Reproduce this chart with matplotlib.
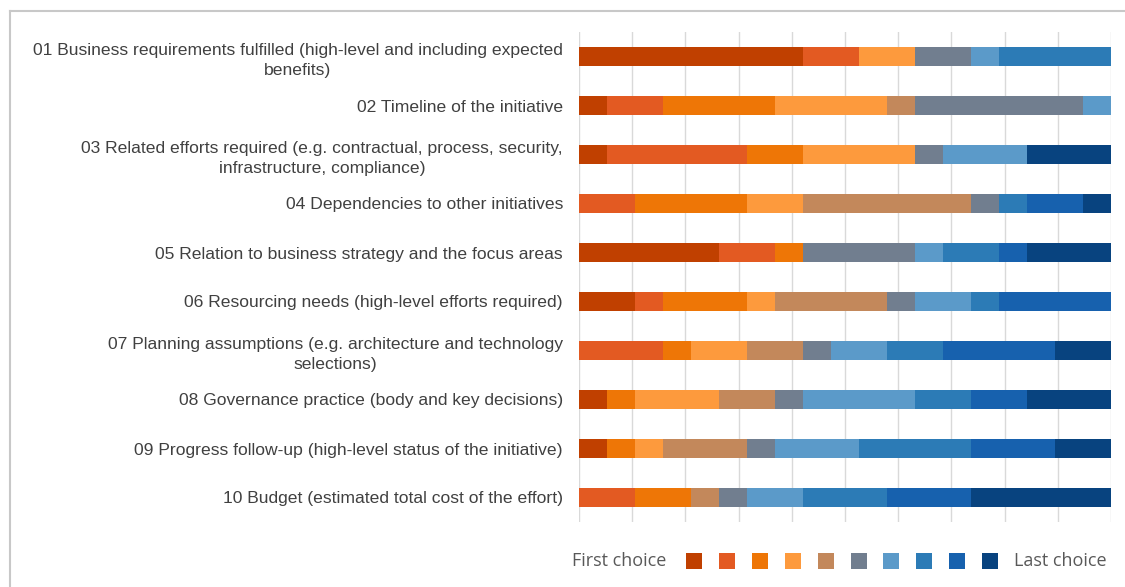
import matplotlib.pyplot as plt
from matplotlib.patches import Rectangle

# ranking survey: how many of the 19 respondents put each item at rank 1..10
items = [
    "01 Business requirements fulfilled (high-level and including expected\nbenefits)",
    "02 Timeline of the initiative",
    "03 Related efforts required (e.g. contractual, process, security,\ninfrastructure, compliance)",
    "04 Dependencies to other initiatives",
    "05 Relation to business strategy and the focus areas",
    "06 Resourcing needs (high-level efforts required)",
    "07 Planning assumptions (e.g. architecture and technology\nselections)",
    "08 Governance practice (body and key decisions)",
    "09 Progress follow-up (high-level status of the initiative)",
    "10 Budget (estimated total cost of the effort)",
]
counts = [
    [8, 2, 0, 2, 0, 2, 1, 4, 0, 0],
    [1, 2, 4, 4, 1, 6, 1, 0, 0, 0],
    [1, 5, 2, 4, 0, 1, 3, 0, 0, 3],
    [0, 2, 4, 2, 6, 1, 0, 1, 2, 1],
    [5, 2, 1, 0, 0, 4, 1, 2, 1, 3],
    [2, 1, 3, 1, 4, 1, 2, 1, 4, 0],
    [0, 3, 1, 2, 2, 1, 2, 2, 4, 2],
    [1, 0, 1, 3, 2, 1, 4, 2, 2, 3],
    [1, 0, 1, 1, 3, 1, 3, 4, 3, 2],
    [0, 2, 2, 0, 1, 1, 2, 3, 3, 5],
]
respondents = 19
rank_colors = ["#C04000", "#E35A22", "#EE7606", "#FD9A3D", "#C3885B",
               "#717E8F", "#5B9AC9", "#2C7BB6", "#1761AE", "#08437F"]

plt.rcParams['font.family'] = ['Liberation Sans', 'DejaVu Sans']

fig = plt.figure(figsize=(11.25, 5.87), dpi=100)
ax = fig.add_axes([579 / 1125, 1 - 522 / 587, 532 / 1125, 490 / 587])

ypos = list(range(len(items)))
left = [0.0] * len(items)
for r in range(10):
    widths = [row[r] / respondents * 100 for row in counts]
    ax.barh(ypos, widths, left=left, height=0.38, color=rank_colors[r],
            linewidth=0, zorder=3)
    left = [a + b for a, b in zip(left, widths)]

ax.set_xlim(0, 100)
ax.set_ylim(len(items) - 0.5, -0.5)
ax.set_xticks(range(0, 101, 10))
ax.xaxis.grid(True, color="#d9d9d9", linewidth=1, zorder=0)
ax.tick_params(axis='x', length=0, labelbottom=False)
ax.tick_params(axis='y', length=0, pad=11.5)
ax.set_yticks(ypos)
ax.set_yticklabels(items, fontsize=12.6, color="#404040", linespacing=1.45)
plt.setp(ax.get_yticklabels(), multialignment='center')
for s in ax.spines.values():
    s.set_visible(False)

# legend row: "First choice" swatches "Last choice"
W, H = 1125, 587
ly = 1 - 561 / H
fig.text(572 / W, ly, "First choice", fontsize=13, color="#595959",
         family=['Open Sans', 'DejaVu Sans'], va='center', ha='left')
for r in range(10):
    x0 = 686 + r * 32.9
    fig.add_artist(Rectangle((x0 / W, ly - 8 / H), 16 / W, 16 / H,
                             transform=fig.transFigure,
                             facecolor=rank_colors[r], edgecolor='none'))
fig.text(1107 / W, ly, "Last choice", fontsize=13, color="#595959",
         family=['Open Sans', 'DejaVu Sans'], va='center', ha='right')

# outer frame (only top and left edges show)
fig.add_artist(plt.Line2D([9.5 / W, 9.5 / W], [0, 1 - 10.5 / H],
                          transform=fig.transFigure, color="#c8c8c8", linewidth=1.5))
fig.add_artist(plt.Line2D([9.5 / W, 1], [1 - 10.5 / H, 1 - 10.5 / H],
                          transform=fig.transFigure, color="#c8c8c8", linewidth=1.5))

fig.savefig("out.png", dpi=100)
